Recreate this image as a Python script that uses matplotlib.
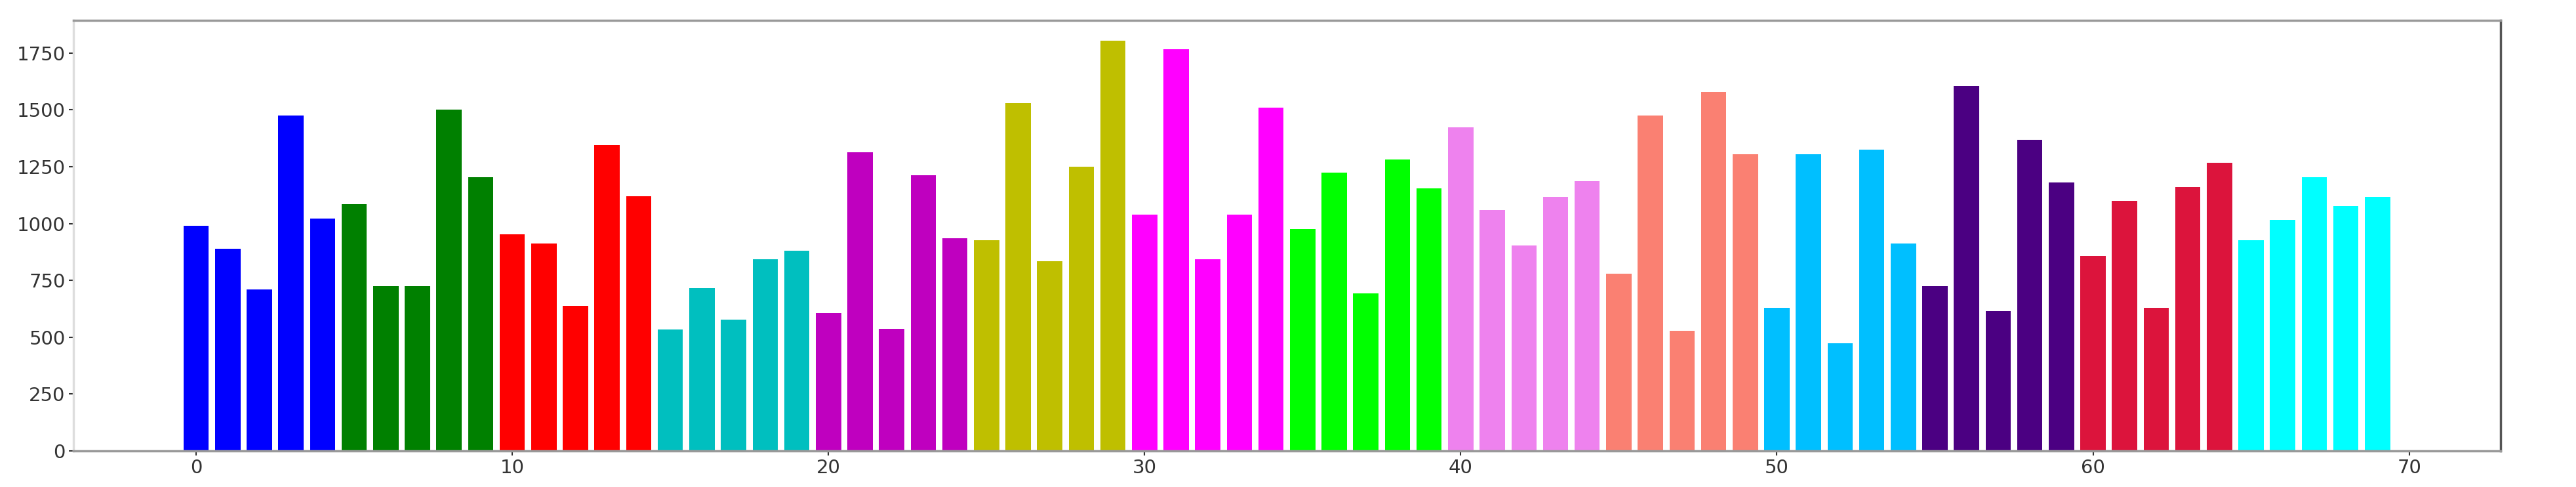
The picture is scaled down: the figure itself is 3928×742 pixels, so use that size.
import matplotlib
matplotlib.use("Agg")
import matplotlib.pyplot as plt
import numpy as np

# bar heights
values = [990, 889, 709, 1476, 1021,
          1085, 725, 725, 1501, 1203,
          953, 912, 638, 1344, 1120,
          534, 716, 577, 842, 882,
          607, 1313, 537, 1212, 936,
          928, 1531, 834, 1249, 1803,
          1039, 1767, 842, 1039, 1509,
          976, 1225, 694, 1281, 1156,
          1422, 1060, 904, 1116, 1187,
          780, 1476, 527, 1580, 1306,
          630, 1306, 474, 1326, 912,
          725, 1604, 616, 1367, 1180,
          857, 1101, 630, 1161, 1266,
          928, 1015, 1203, 1078, 1116]
group_colors = ['blue', 'green', 'red', 'c', 'm', 'y', 'magenta', 'lime',
                'violet', 'salmon', 'deepskyblue', 'indigo', 'crimson', 'cyan']
xticks = [0, 10, 20, 30, 40, 50, 60, 70]
yticks = [0, 250, 500, 750, 1000, 1250, 1500, 1750]

x = np.arange(len(values))
colors = [group_colors[i // 5] for i in x]

fig = plt.figure(figsize=(39.28, 7.42), dpi=100)
ax = fig.add_axes([0.0284, 0.074, 0.9423, 0.884])
ax.bar(x, values, color=colors)

ax.set_xticks(xticks)
ax.set_yticks(yticks)
ax.tick_params(labelsize=21, width=1.5, length=5, colors='#333333')

ax.spines['left'].set_color('#dddddd')
ax.spines['top'].set_color('#999999')
ax.spines['bottom'].set_color('#999999')
ax.spines['right'].set_color('#555555')
for s in ax.spines.values():
    s.set_linewidth(2.5)

fig.savefig('out.png', dpi=100)
